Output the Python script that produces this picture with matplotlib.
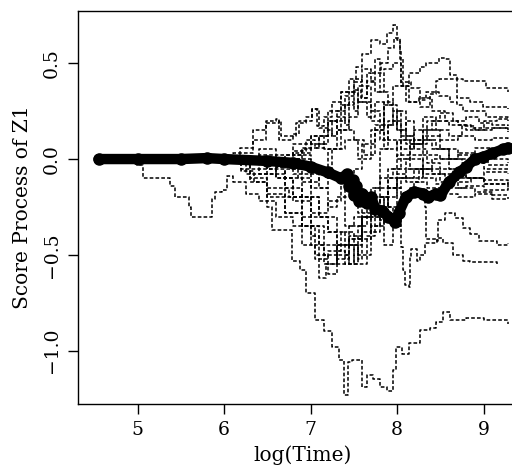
import matplotlib
matplotlib.use("Agg")
import matplotlib.pyplot as plt

# observed score process (thick line with points)
obs_x = [4.55, 5.0, 5.5, 5.8, 6.0, 6.5, 6.8, 7.0, 7.2, 7.35, 7.42, 7.45, 7.49, 7.5, 7.53,
         7.56, 7.6, 7.65, 7.7, 7.75, 7.83, 7.9, 7.98, 8.02, 8.1, 8.2, 8.3, 8.36, 8.45, 8.5,
         8.6, 8.72, 8.8, 8.9, 8.99, 9.1, 9.22, 9.28]
obs_y = [0.0, 0.0, 0.0, 0.005, 0.0, -0.01, -0.02, -0.04, -0.07, -0.1, -0.08, -0.14, -0.11,
         -0.19, -0.14, -0.22, -0.18, -0.23, -0.2, -0.26, -0.27, -0.3, -0.33, -0.28, -0.2,
         -0.17, -0.18, -0.2, -0.18, -0.19, -0.12, -0.07, -0.04, 0.0, 0.01, 0.03, 0.05, 0.06]

# simulated score processes (dashed)
sim_x = [
    [4.55, 6.0, 6.2, 6.35, 6.5, 6.56, 6.74, 6.79, 6.88, 6.95, 7.05, 7.15, 7.25, 7.33, 7.39,
     7.43, 7.48, 7.55, 7.59, 7.65, 7.72, 7.80, 7.88, 7.95, 7.99, 8.06, 8.14, 8.26, 8.38,
     8.45, 8.53, 8.61, 8.80, 9.0, 9.28],
    [4.55, 4.99, 5.06, 5.37, 5.43, 5.6, 5.62, 5.83, 5.86, 5.89, 5.98, 6.03, 6.1, 6.25, 6.4,
     6.6, 6.8, 7.0, 7.15, 7.3, 7.45, 7.6, 7.75, 7.9, 8.05, 8.2, 8.4, 8.6, 8.8, 9.0, 9.28],
    [4.55, 6.0, 6.10, 6.33, 6.49, 6.64, 6.66, 6.83, 6.95, 7.02, 7.07, 7.15, 7.25, 7.35, 7.45,
     7.52, 7.6, 7.7, 7.8, 7.88, 7.95, 8.0, 8.03, 8.05, 8.16, 8.26, 8.34, 8.49, 8.61, 8.69,
     8.76, 9.03, 9.28],
    [4.55, 6.1, 6.18, 6.33, 6.49, 6.6, 6.64, 6.8, 6.87, 7.02, 7.1, 7.2, 7.3, 7.4, 7.5, 7.6,
     7.7, 7.82, 7.9, 7.97, 8.03, 8.07, 8.14, 8.26, 8.34, 8.49, 8.55, 8.61, 8.69, 8.76, 9.03,
     9.28],
    [4.55, 6.3, 6.5, 6.7, 6.9, 7.1, 7.25, 7.4, 7.5, 7.58, 7.65, 7.75, 7.85, 7.95, 8.05, 8.14,
     8.26, 8.38, 8.45, 8.49, 8.69, 8.84, 8.99, 9.28],
    [4.55, 6.2, 6.4, 6.6, 6.8, 7.0, 7.15, 7.3, 7.45, 7.55, 7.7, 7.8, 7.9, 8.0, 8.1, 8.2, 8.35,
     8.5, 8.65, 8.8, 8.95, 9.1, 9.28],
    [4.55, 6.0, 6.2, 6.4, 6.6, 6.8, 7.0, 7.2, 7.35, 7.5, 7.62, 7.75, 7.85, 7.95, 8.05, 8.2,
     8.3, 8.45, 8.6, 8.75, 8.9, 9.1, 9.28],
    [4.55, 6.5, 6.7, 6.9, 7.1, 7.25, 7.4, 7.55, 7.7, 7.85, 7.95, 8.1, 8.25, 8.4, 8.55, 8.7,
     8.85, 9.0, 9.15, 9.28],
    [4.55, 6.0, 6.25, 6.5, 6.75, 7.0, 7.2, 7.35, 7.5, 7.6, 7.75, 7.85, 8.0, 8.15, 8.3, 8.45,
     8.6, 8.75, 8.9, 9.05, 9.28],
    [4.55, 6.1, 6.3, 6.5, 6.7, 6.9, 7.1, 7.3, 7.45, 7.6, 7.75, 7.9, 8.05, 8.2, 8.35, 8.5,
     8.65, 8.8, 9.0, 9.28],
    [4.55, 6.2, 6.4, 6.6, 6.8, 7.0, 7.2, 7.4, 7.55, 7.7, 7.85, 8.0, 8.1, 8.25, 8.4, 8.55,
     8.7, 8.85, 9.0, 9.28],
    [4.55, 6.4, 6.6, 6.8, 7.0, 7.15, 7.3, 7.45, 7.6, 7.7, 7.8, 7.9, 8.0, 8.15, 8.3, 8.45,
     8.6, 8.8, 9.0, 9.28],
    [4.55, 6.3, 6.5, 6.7, 6.9, 7.05, 7.1, 7.18, 7.3, 7.45, 7.6, 7.75, 7.9, 8.05, 8.2, 8.35,
     8.5, 8.7, 8.9, 9.1, 9.28],
    [4.55, 6.5, 6.7, 6.9, 7.1, 7.3, 7.5, 7.65, 7.75, 7.85, 7.95, 8.05, 8.15, 8.25, 8.32,
     8.34, 8.46, 8.47, 8.55, 8.67, 8.76, 8.84, 8.95, 9.15, 9.28],
    [4.55, 6.6, 6.8, 7.0, 7.2, 7.4, 7.55, 7.7, 7.85, 7.95, 8.01, 8.05, 8.07, 8.09, 8.14,
     8.15, 8.16, 8.23, 8.26, 8.32, 8.46, 8.53, 8.65, 8.76, 8.84, 9.15],
    [4.55, 6.1, 6.3, 6.5, 6.7, 6.9, 7.05, 7.2, 7.35, 7.5, 7.6, 7.7, 7.8, 7.9, 8.0, 8.1, 8.3,
     8.5, 8.7, 8.9, 9.1, 9.28],
    [4.55, 6.2, 6.4, 6.6, 6.8, 7.0, 7.2, 7.35, 7.5, 7.6, 7.7, 7.85, 8.0, 8.15, 8.3, 8.5, 8.7,
     8.9, 9.1, 9.28],
    [4.55, 6.3, 6.5, 6.7, 6.9, 7.0, 7.1, 7.2, 7.3, 7.4, 7.45, 7.55, 7.65, 7.8, 7.95, 8.1,
     8.3, 8.5, 8.7, 8.9, 9.1, 9.28],
    [4.55, 6.6, 6.8, 6.95, 7.05, 7.15, 7.25, 7.3, 7.4, 7.45, 7.5, 7.55, 7.6, 7.65, 7.7, 7.75,
     7.8, 7.9, 8.0, 8.1, 8.2, 8.4, 8.6, 8.8, 9.0, 9.28],
    [4.55, 6.7, 6.85, 7.0, 7.1, 7.2, 7.3, 7.4, 7.5, 7.55, 7.6, 7.7, 7.8, 7.9, 8.0, 8.1, 8.3,
     8.5, 8.7, 9.0, 9.28],
    [4.55, 6.8, 6.9, 7.0, 7.1, 7.2, 7.3, 7.35, 7.45, 7.55, 7.65, 7.75, 7.85, 7.95, 8.05, 8.2,
     8.4, 8.6, 8.8, 9.0, 9.28],
    [4.55, 6.9, 7.0, 7.1, 7.2, 7.3, 7.4, 7.5, 7.6, 7.7, 7.8, 7.9, 8.0, 8.1, 8.3, 8.5, 8.7,
     8.9, 9.28],
]
sim_y = [
    [0, 0, -0.06, -0.12, -0.25, -0.37, -0.37, -0.53, -0.58, -0.70, -0.84, -0.90, -0.98, -1.05,
     -1.23, -1.06, -1.05, -1.05, -1.19, -1.13, -1.15, -1.19, -1.21, -1.10, -0.98, -1.02,
     -0.96, -0.89, -0.88, -0.85, -0.80, -0.84, -0.83, -0.84, -0.86],
    [0, -0.03, -0.10, -0.14, -0.20, -0.25, -0.30, -0.30, -0.21, -0.17, -0.16, -0.09, -0.12,
     -0.18, -0.22, -0.30, -0.35, -0.45, -0.55, -0.50, -0.42, -0.30, -0.25, -0.15, -0.10,
     -0.05, 0.0, -0.05, -0.10, -0.13, -0.15],
    [0, 0, 0.03, 0.10, 0.19, 0.20, 0.12, 0.19, 0.22, 0.26, 0.17, 0.22, 0.30, 0.35, 0.42,
     0.48, 0.55, 0.62, 0.60, 0.66, 0.70, 0.62, 0.57, 0.40, 0.37, 0.31, 0.35, 0.33, 0.30,
     0.28, 0.25, 0.22, 0.20],
    [0, 0, 0.06, 0.15, 0.20, 0.21, 0.10, 0.13, 0.20, 0.26, 0.16, 0.20, 0.25, 0.33, 0.40,
     0.47, 0.45, 0.50, 0.58, 0.63, 0.52, 0.38, 0.45, 0.48, 0.50, 0.53, 0.52, 0.44, 0.42,
     0.41, 0.37, 0.35],
    [0, 0, -0.03, 0.02, 0.06, 0.12, 0.20, 0.28, 0.36, 0.32, 0.41, 0.35, 0.47, 0.50, 0.38,
     0.30, 0.27, 0.34, 0.41, 0.42, 0.32, 0.30, 0.27, 0.26],
    [0, 0, 0.02, -0.04, 0.03, 0.08, 0.05, 0.15, 0.22, 0.30, 0.25, 0.10, 0.18, 0.25, 0.12,
     0.08, 0.20, 0.24, 0.20, 0.22, 0.19, 0.18, 0.17],
    [0, 0, -0.05, -0.08, -0.04, 0.02, -0.05, 0.05, 0.15, 0.10, 0.02, 0.18, 0.30, 0.20, 0.05,
     0.10, 0.22, 0.15, 0.12, 0.17, 0.15, 0.16, 0.14],
    [0, 0, -0.05, -0.12, -0.05, 0.05, 0.10, 0.0, 0.15, 0.28, 0.38, 0.30, 0.32, 0.25, 0.20,
     0.18, 0.16, 0.20, 0.21, 0.20],
    [0, 0, -0.08, -0.15, -0.20, -0.28, -0.22, -0.10, -0.05, 0.08, 0.15, 0.05, 0.10, 0.02,
     0.10, 0.05, 0.0, -0.02, 0.01, -0.03, -0.03],
    [0, 0, -0.10, -0.18, -0.28, -0.35, -0.45, -0.52, -0.40, -0.30, -0.15, -0.05, 0.10, 0.05,
     -0.02, -0.05, -0.08, -0.10, -0.07, -0.08],
    [0, 0, -0.05, -0.10, -0.20, -0.30, -0.38, -0.45, -0.50, -0.35, -0.20, -0.10, -0.12,
     -0.05, -0.08, -0.10, -0.12, -0.10, -0.13, -0.12],
    [0, 0, -0.10, -0.22, -0.35, -0.50, -0.55, -0.42, -0.30, -0.38, -0.20, -0.10, 0.02, -0.05,
     -0.10, -0.13, -0.15, -0.14, -0.16, -0.15],
    [0, 0, -0.08, -0.20, -0.35, -0.50, -0.62, -0.55, -0.45, -0.35, -0.25, -0.30, -0.15,
     -0.20, -0.12, -0.15, -0.18, -0.20, -0.18, -0.21, -0.20],
    [0, 0, -0.10, -0.20, -0.30, -0.45, -0.55, -0.40, -0.30, -0.45, -0.35, -0.22, -0.15,
     -0.20, -0.25, -0.42, -0.43, -0.32, -0.28, -0.31, -0.36, -0.39, -0.43, -0.45, -0.44],
    [0, 0, -0.08, -0.15, -0.10, -0.20, -0.28, -0.20, -0.25, -0.30, -0.35, -0.46, -0.58,
     -0.66, -0.67, -0.51, -0.47, -0.53, -0.50, -0.44, -0.41, -0.44, -0.50, -0.53, -0.54,
     -0.55],
    [0, 0, -0.12, -0.20, -0.28, -0.45, -0.52, -0.48, -0.38, -0.45, -0.30, -0.15, 0.05, 0.20,
     0.15, 0.08, 0.12, 0.05, 0.02, 0.06, 0.05, 0.05],
    [0, 0, 0.05, 0.02, 0.08, 0.12, 0.25, 0.35, 0.42, 0.38, 0.20, 0.10, 0.0, 0.08, 0.15, 0.10,
     0.12, 0.10, 0.11, 0.10],
    [0, 0, -0.05, -0.15, -0.30, -0.40, -0.50, -0.60, -0.45, -0.50, -0.55, -0.35, -0.25,
     -0.10, -0.05, 0.0, -0.08, -0.12, -0.15, -0.17, -0.19, -0.18],
    [0, 0, 0.04, 0.10, 0.06, 0.15, 0.12, 0.22, 0.18, 0.30, 0.25, 0.38, 0.32, 0.45, 0.40,
     0.52, 0.35, 0.28, 0.15, 0.20, 0.10, 0.05, 0.0, -0.02, -0.05, -0.06],
    [0, 0, -0.10, -0.20, -0.30, -0.38, -0.48, -0.55, -0.45, -0.52, -0.38, -0.28, -0.32,
     -0.15, -0.08, -0.10, -0.05, -0.08, -0.10, -0.11, -0.12],
    [0, 0, 0.05, 0.12, 0.08, 0.20, 0.15, 0.28, 0.35, 0.30, 0.22, 0.30, 0.18, 0.25, 0.12,
     0.15, 0.20, 0.18, 0.15, 0.16, 0.15],
    [0, 0, -0.08, -0.15, -0.25, -0.20, -0.35, -0.30, -0.42, -0.35, -0.20, -0.25, -0.10,
     -0.05, 0.02, 0.0, 0.03, 0.0, -0.02],
]

plt.rcParams['font.family'] = 'DejaVu Serif'

fig = plt.figure(figsize=(5.12, 4.70), dpi=100)
ax = fig.add_axes([0.152, 0.1404, 0.877, 0.8362])

for xs, ys in zip(sim_x, sim_y):
    ax.plot(xs, ys, color='black', lw=1.1, ls=(0, (2.4, 1.4)), drawstyle='steps-post')

ax.plot(obs_x, obs_y, color='black', lw=7.5, solid_capstyle='round',
        solid_joinstyle='round', marker='o', ms=8, zorder=3)

ax.set_xlim(4.31, 9.5)
ax.set_ylim(-1.279, 0.773)
ax.set_xticks([5, 6, 7, 8, 9])
ax.set_yticks([-1.0, -0.5, 0.0, 0.5])
ax.set_yticklabels(['\u22121.0', '\u22120.5', '0.0', '0.5'], rotation=90, va='center')
ax.tick_params(direction='out', length=7, width=1, labelsize=13.5, pad=5)
ax.spines['right'].set_visible(False)
for s in ['left', 'top', 'bottom']:
    ax.spines[s].set_linewidth(1)

ax.set_xlabel('log(Time)', fontsize=14.5, labelpad=5)
ax.set_ylabel('Score Process of Z1', fontsize=14.5, labelpad=8)

fig.savefig('out.png', dpi=100)
